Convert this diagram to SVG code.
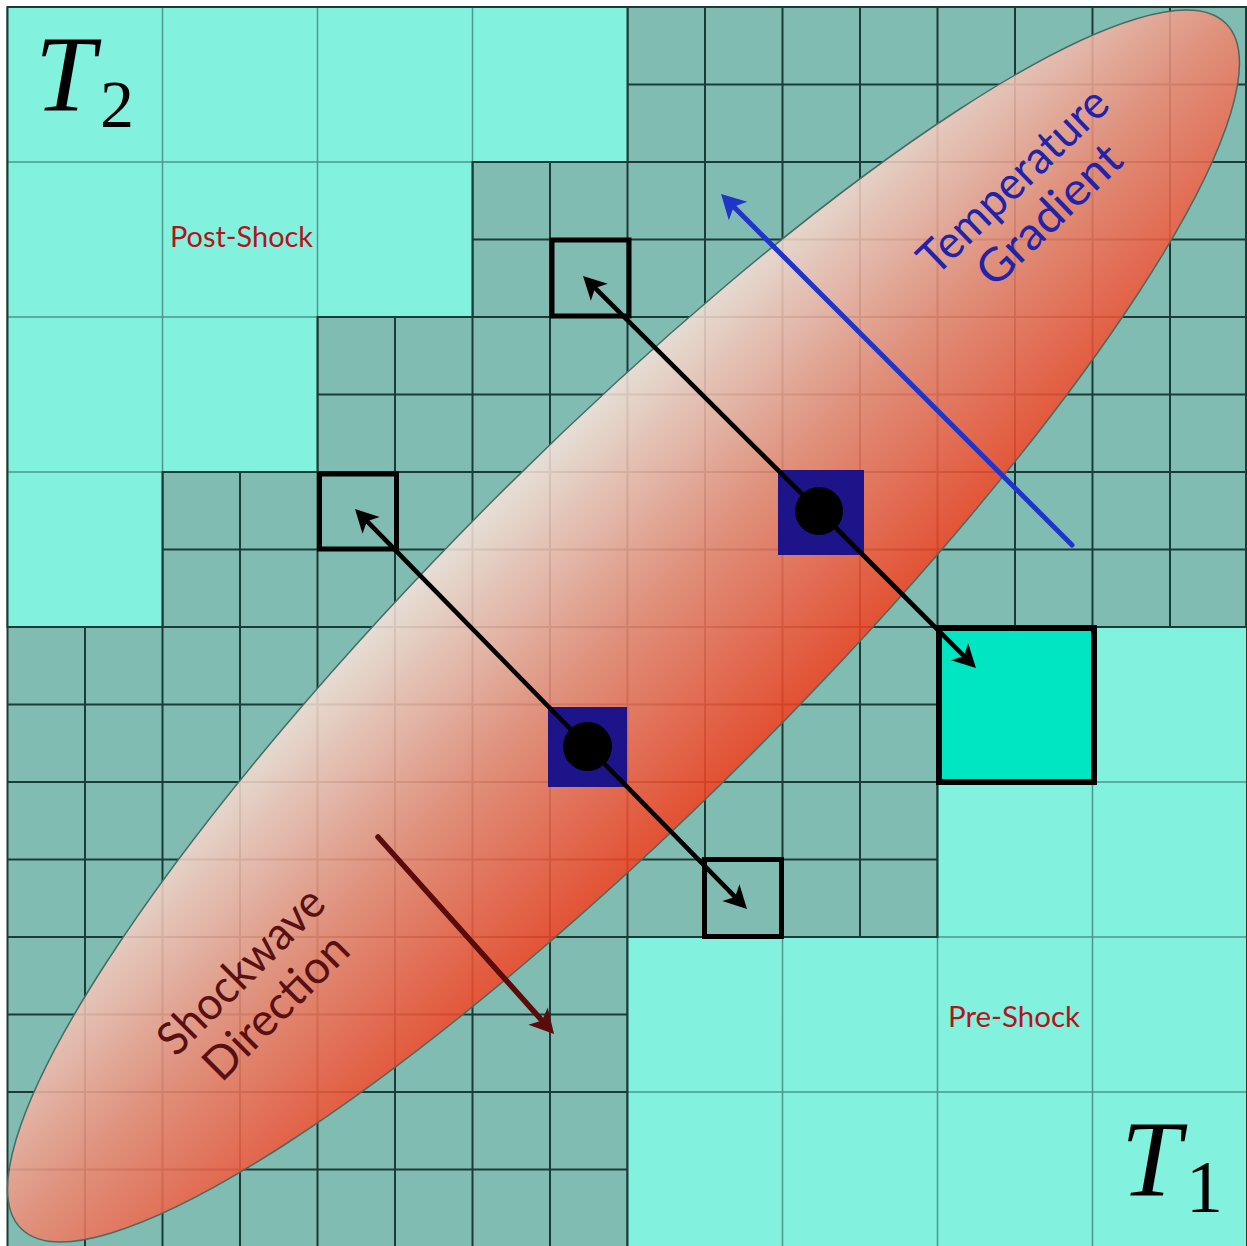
<svg xmlns="http://www.w3.org/2000/svg" width="1247" height="1246" viewBox="0 0 1247 1246">
<defs>
<style>
.fine{fill:#80bcb1}
.fl{stroke:#1d3b36;stroke-width:2;fill:none}
.cfill{fill:#82f2de}
.cl{stroke:#4e978c;stroke-width:1.5;fill:none}
.cedge{fill:none;stroke:#1d3b36;stroke-width:2}
.box{fill:none;stroke:#000;stroke-width:5}
.blue{fill:#1c1488}
.dot{fill:#000}
.conn{fill:none;stroke-linecap:round}
.lbl{font-family:Lato,"Liberation Sans",sans-serif;font-size:29px;fill:#b5121b}
.rot{font-family:Lato,"Liberation Sans",sans-serif;font-size:46px;text-anchor:middle}
.math{font-family:"Liberation Serif",serif;fill:#000}
</style>
<clipPath id="cclip"><path d="M7.5,7H627.5V162H472.5V317H317.5V472H162.5V627H7.5Z M937.5,627H1247V1247H627.5V937H937.5Z"/></clipPath>
<linearGradient id="eg" gradientUnits="userSpaceOnUse" x1="623.5" y1="446" x2="623.5" y2="806">
<stop offset="0" stop-color="#f6e4dc"/>
<stop offset="0.5" stop-color="#ef8a74"/>
<stop offset="1" stop-color="#f33f1e"/>
</linearGradient>
<marker id="ahk" markerUnits="userSpaceOnUse" markerWidth="40" markerHeight="40" refX="0" refY="0" orient="auto" overflow="visible"><path d="M8,0 L-15,-12 L-9,0 L-15,12 Z" fill="#000"/></marker>
<marker id="ahb" markerUnits="userSpaceOnUse" markerWidth="40" markerHeight="40" refX="0" refY="0" orient="auto" overflow="visible"><path d="M8,0 L-16,-13 L-10,0 L-16,13 Z" fill="#1f35c8"/></marker>
<marker id="ahr" markerUnits="userSpaceOnUse" markerWidth="40" markerHeight="40" refX="0" refY="0" orient="auto" overflow="visible"><path d="M8,0 L-16,-13 L-10,0 L-16,13 Z" fill="#5a0c0c"/></marker>
</defs>
<rect width="1247" height="1246" fill="#fff"/>
<g id="grid">
<rect class="fine" x="7.5" y="7" width="1239.5" height="1240"/>
<path class="fl" d="M7.5,7V1247M85,7V1247M162.5,7V1247M240,7V1247M317.5,7V1247M395,7V1247M472.5,7V1247M550,7V1247M627.5,7V1247M705,7V1247M782.5,7V1247M860,7V1247M937.5,7V1247M1015,7V1247M1092.5,7V1247M1170,7V1247M1246,7V1247M7.5,7H1247M7.5,84.5H1247M7.5,162H1247M7.5,239.5H1247M7.5,317H1247M7.5,394.5H1247M7.5,472H1247M7.5,549.5H1247M7.5,627H1247M7.5,704.5H1247M7.5,782H1247M7.5,859.5H1247M7.5,937H1247M7.5,1014.5H1247M7.5,1092H1247M7.5,1169.5H1247"/>
<path class="cfill" d="M7.5,7H627.5V162H472.5V317H317.5V472H162.5V627H7.5Z M937.5,627H1247V1247H627.5V937H937.5Z"/>
<path class="cl" clip-path="url(#cclip)" d="M162.5,7V1247M317.5,7V1247M472.5,7V1247M782.5,7V1247M937.5,7V1247M1092.5,7V1247M7.5,162H1247M7.5,317H1247M7.5,472H1247M7.5,782H1247M7.5,937H1247M7.5,1092H1247"/>
<path class="cedge" d="M7.5,7H627.5V162H472.5V317H317.5V472H162.5V627H7.5Z M937.5,627H1247V1247H627.5V937H937.5Z"/>
</g>
<g id="shock-region">
<ellipse cx="623.5" cy="626" rx="852" ry="181" transform="rotate(-45 623.5 626)" fill="url(#eg)" fill-opacity="0.86" stroke="#4a6a60" stroke-width="1.5"/>
</g>
<g id="cell-big"><rect x="939" y="628" width="155" height="154" fill="#00e5c2" stroke="#000" stroke-width="6"/></g>
<g id="cell-a"><rect class="box" x="552" y="240" width="77" height="76"/></g>
<g id="cell-b"><rect class="box" x="319.5" y="474" width="77" height="75"/></g>
<g id="cell-c"><rect class="box" x="704.5" y="859.5" width="77" height="77"/></g>
<g id="src-1"><rect class="blue" x="778" y="470" width="86" height="85"/></g>
<g id="src-2"><rect class="blue" x="548" y="707" width="79" height="80"/></g>
<g id="connectors">
<path class="conn" stroke="#000" stroke-width="4.6" marker-end="url(#ahk)" d="M819,511L588.7,281.7"/>
<path class="conn" stroke="#000" stroke-width="4.6" marker-end="url(#ahk)" d="M819,511L970.3,662.4"/>
<path class="conn" stroke="#000" stroke-width="4.6" marker-end="url(#ahk)" d="M587.5,746.5L360.6,514.7"/>
<path class="conn" stroke="#000" stroke-width="4.6" marker-end="url(#ahk)" d="M587.5,746.5L741.4,903.3"/>
<path class="conn" stroke="#1f35c8" stroke-width="5" marker-end="url(#ahb)" d="M1072,545L726.7,199.7"/>
<path class="conn" stroke="#5a0c0c" stroke-width="5.5" marker-end="url(#ahr)" d="M378,837L548.7,1028"/>
</g>
<g id="dot-1"><circle class="dot" cx="819" cy="511" r="24"/></g>
<g id="dot-2"><circle class="dot" cx="587.5" cy="746.5" r="24.5"/></g>
<g id="labels">
<text class="lbl" x="170" y="247" textLength="143" lengthAdjust="spacingAndGlyphs">Post-Shock</text>
<text class="lbl" x="948" y="1027" textLength="132" lengthAdjust="spacingAndGlyphs">Pre-Shock</text>
<text class="rot" fill="#2323aa" transform="translate(1024,192) rotate(-44)" textLength="245" lengthAdjust="spacingAndGlyphs">Temperature</text>
<text class="rot" fill="#2323aa" transform="translate(1060,226) rotate(-44)" textLength="182" lengthAdjust="spacingAndGlyphs">Gradient</text>
<text class="rot" fill="#5a0f12" transform="translate(252,982) rotate(-45)" textLength="215" lengthAdjust="spacingAndGlyphs">Shockwave</text>
<text class="rot" fill="#5a0f12" transform="translate(287,1018) rotate(-45)" textLength="185" lengthAdjust="spacingAndGlyphs">Direction</text>
<text class="math" x="35" y="110" font-size="108" font-style="italic">T</text>
<text class="math" x="100" y="127" font-size="68">2</text>
<text class="math" x="1121" y="1195" font-size="108" font-style="italic">T</text>
<text class="math" x="1186" y="1212" font-size="74">1</text>
</g>
</svg>
